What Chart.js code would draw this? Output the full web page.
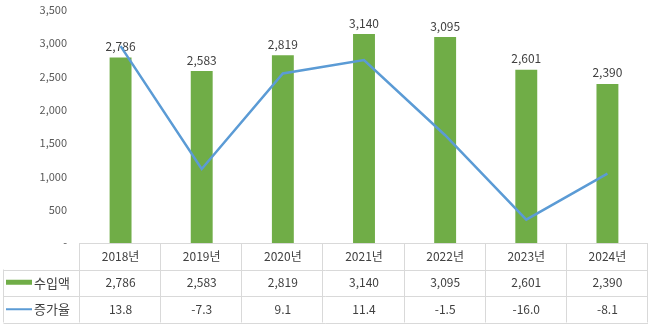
<!DOCTYPE html>
<html>
<head>
<meta charset="utf-8">
<script src="https://cdn.jsdelivr.net/npm/chart.js@4/dist/chart.umd.min.js"></script>
<style>
  html, body { margin: 0; padding: 0; background: #fff; }
  #wrap { width: 650px; height: 328px; }
</style>
</head>
<body>
<div id="wrap"><canvas id="chart"></canvas></div>
<script>
var years = ['2018년', '2019년', '2020년', '2021년', '2022년', '2023년', '2024년'];
var imports = [2786, 2583, 2819, 3140, 3095, 2601, 2390];
var growth = [13.8, -7.3, 9.1, 11.4, -1.5, -16.0, -8.1];
var seriesNames = ['수입액', '증가율'];

var FONT = '"Noto Sans CJK KR", "Noto Sans", sans-serif';
var GREEN = '#70AD47';
var BLUE = '#5B9BD5';
var GRID = '#D9D9D9';
var TEXT = '#404040';

function comma(v) {
  return v.toLocaleString('en-US');
}

// value labels above the bars (drawn before datasets so the line sits on top)
var barLabels = {
  id: 'barLabels',
  beforeDatasetsDraw: function (chart) {
    var ctx = chart.ctx;
    var meta = chart.getDatasetMeta(0);
    ctx.save();
    ctx.font = '12px ' + FONT;
    ctx.fillStyle = TEXT;
    ctx.textAlign = 'center';
    ctx.textBaseline = 'bottom';
    meta.data.forEach(function (bar, i) {
      ctx.fillText(comma(imports[i]), bar.x, bar.y - 5);
    });
    ctx.restore();
  }
};

// data table under the plot
var dataTable = {
  id: 'dataTable',
  afterDraw: function (chart) {
    var ctx = chart.ctx;
    var area = chart.chartArea;
    var x = chart.scales.x;
    var colW = (area.right - area.left) / years.length;
    var rowH = 26.5;
    var top = area.bottom;
    var leftEdge = 3.5;
    var i;

    ctx.save();
    ctx.strokeStyle = GRID;
    ctx.lineWidth = 1;
    ctx.beginPath();
    // horizontal lines
    ctx.moveTo(area.left, top + 0.5);
    ctx.lineTo(area.right, top + 0.5);
    for (i = 1; i <= 3; i++) {
      var y = Math.round(top + rowH * i) + 0.5;
      ctx.moveTo(leftEdge, y);
      ctx.lineTo(area.right, y);
    }
    // vertical lines
    for (i = 0; i <= years.length; i++) {
      var vx = Math.round(area.left + colW * i) - 0.5;
      if (i == years.length) vx = area.right - 0.5;
      ctx.moveTo(vx, top);
      ctx.lineTo(vx, top + rowH * 3);
    }
    ctx.moveTo(leftEdge, top + rowH);
    ctx.lineTo(leftEdge, top + rowH * 3);
    ctx.stroke();

    ctx.fillStyle = TEXT;
    ctx.textAlign = 'center';
    ctx.textBaseline = 'middle';
    ctx.font = '12px ' + FONT;
    for (i = 0; i < years.length; i++) {
      var cx = x.getPixelForValue(i);
      ctx.fillText(years[i], cx, top + rowH * 0.5);
      ctx.fillText(comma(imports[i]), cx, top + rowH * 1.5);
      ctx.fillText(growth[i].toFixed(1), cx, top + rowH * 2.5);
    }

    // legend keys in the first column
    ctx.fillStyle = GREEN;
    ctx.fillRect(6, top + rowH * 1.5 - 3, 26, 5);
    ctx.strokeStyle = BLUE;
    ctx.lineWidth = 2;
    ctx.beginPath();
    ctx.moveTo(6, top + rowH * 2.5);
    ctx.lineTo(32, top + rowH * 2.5);
    ctx.stroke();

    ctx.fillStyle = TEXT;
    ctx.textAlign = 'left';
    ctx.font = '13px ' + FONT;
    ctx.fillText(seriesNames[0], 34, top + rowH * 1.5);
    ctx.fillText(seriesNames[1], 34, top + rowH * 2.5);
    ctx.restore();
  }
};

var ctx = document.getElementById('chart').getContext('2d');
var chart = new Chart(ctx, {
  type: 'bar',
  data: {
    labels: years,
    datasets: [{
      type: 'bar',
      label: seriesNames[0],
      data: imports,
      backgroundColor: GREEN,
      categoryPercentage: 1,
      barPercentage: 0.27,
      yAxisID: 'y',
      order: 1
    }, {
      type: 'line',
      label: seriesNames[1],
      data: growth,
      borderColor: BLUE,
      borderWidth: 2.5,
      pointRadius: 0,
      tension: 0,
      fill: false,
      yAxisID: 'y2',
      order: 0
    }]
  },
  options: {
    responsive: true,
    maintainAspectRatio: false,
    animation: false,
    layout: { padding: { top: 10, right: 2, bottom: 85, left: 0 } },
    plugins: {
      legend: { display: false },
      tooltip: { enabled: false }
    },
    scales: {
      x: { display: false },
      y: {
        min: 0,
        max: 3500,
        border: { display: false },
        grid: { display: false, drawTicks: false },
        ticks: {
          stepSize: 500,
          padding: 13,
          color: '#595959',
          font: { size: 11, family: FONT },
          callback: function (v) { return v === 0 ? '-' : comma(v); }
        },
        afterFit: function (scale) {
          scale.width = 80;
          scale.paddingTop = 0;
          scale.paddingBottom = 0;
        }
      },
      y2: {
        display: false,
        min: -20,
        max: 20
      }
    }
  },
  plugins: [barLabels, dataTable]
});
</script>
</body>
</html>
